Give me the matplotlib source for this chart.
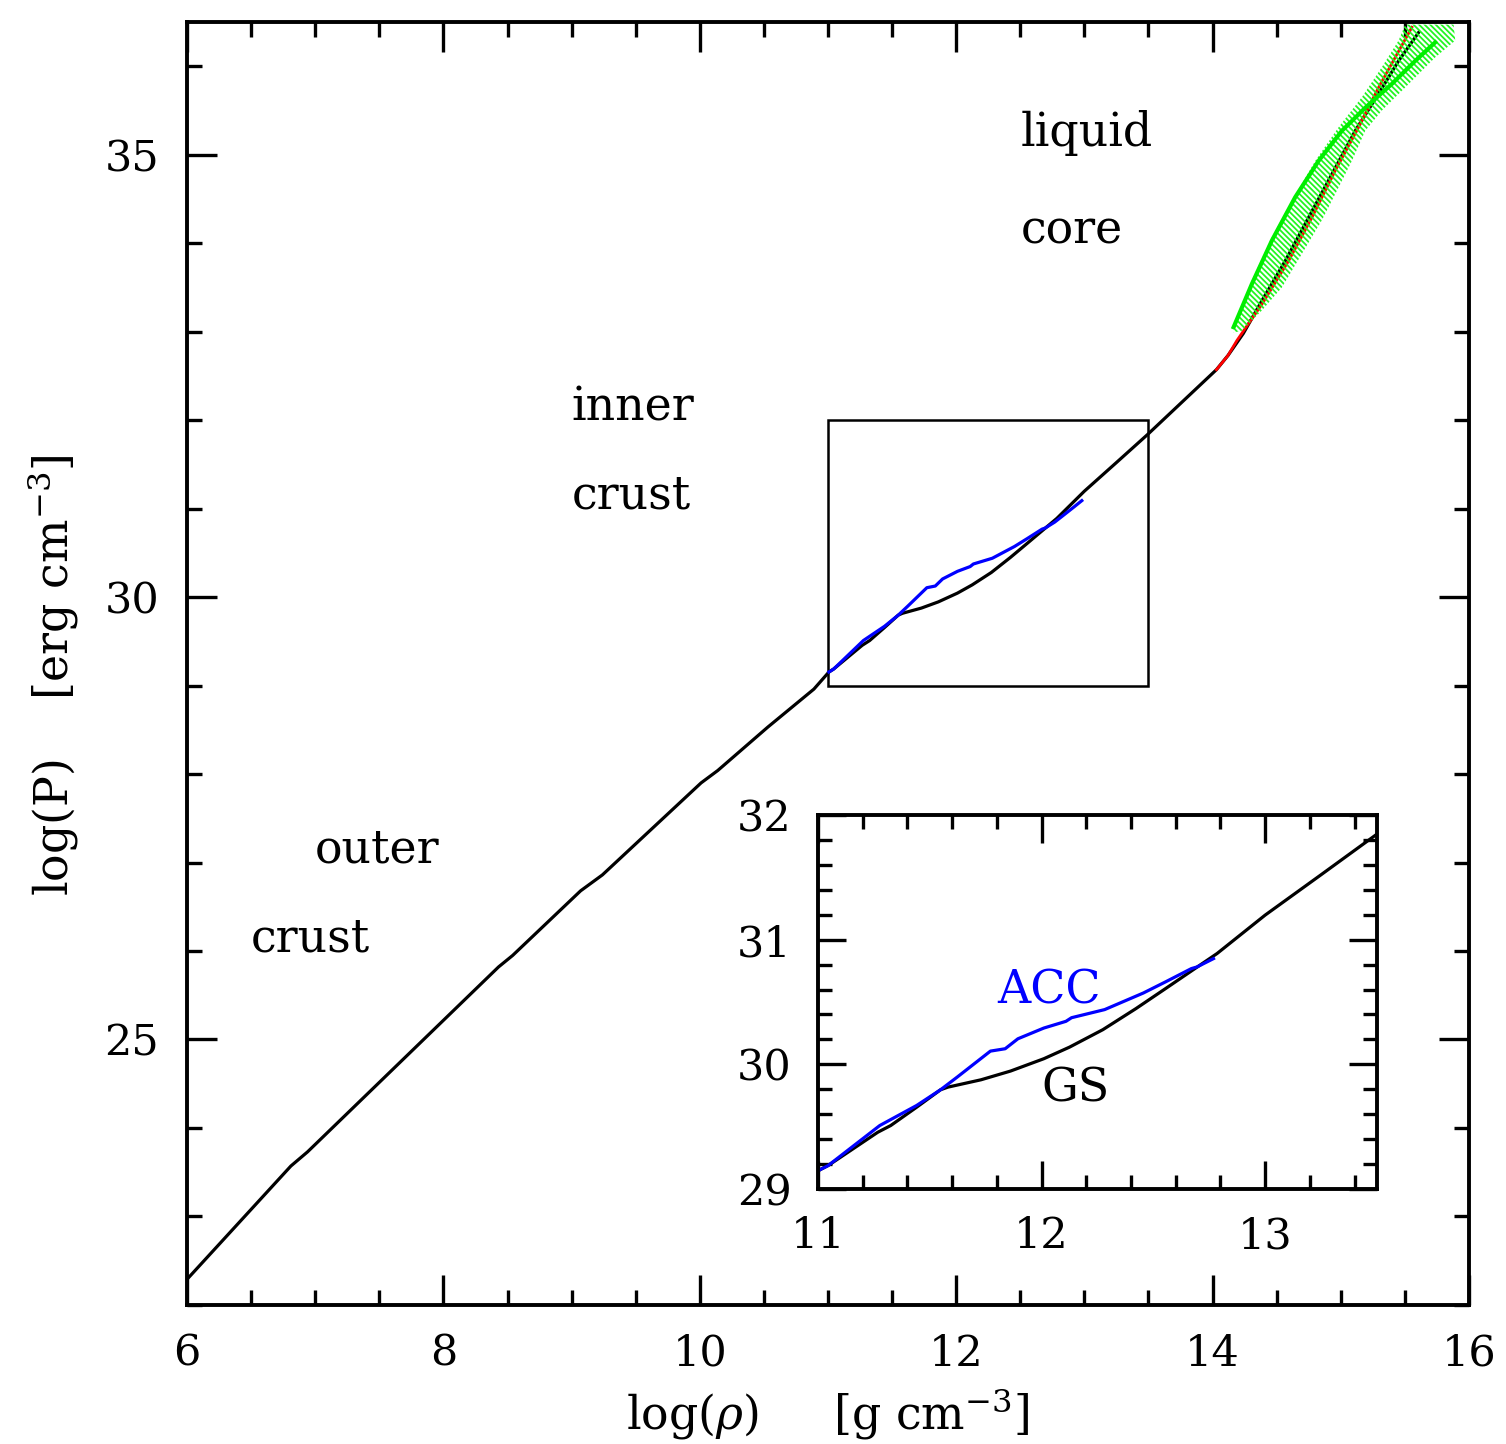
import matplotlib
matplotlib.use("Agg")
import matplotlib.pyplot as plt
from matplotlib.patches import Rectangle
from matplotlib.ticker import MultipleLocator

plt.rcParams['font.family'] = ['DejaVu Serif']
plt.rcParams['mathtext.fontset'] = 'dejavuserif'
plt.rcParams['hatch.linewidth'] = 1.3

# ground-state (GS) equation of state, log(rho) vs log(P)
gs_logrho = [6.0, 6.81, 6.94, 8.43, 8.54, 9.07, 9.24, 10.01, 10.14, 10.53, 10.89,
             11.007, 11.045, 11.267, 11.325, 11.441, 11.548, 11.581, 11.729, 11.861,
             12.010, 12.125, 12.274, 12.422, 12.554, 12.703, 12.785, 13.0, 13.248,
             13.495, 14.03, 14.12, 14.24, 14.385, 14.567, 14.749, 14.931, 15.113,
             15.295, 15.451, 15.607]
gs_logp = [22.29, 23.57, 23.73, 25.82, 25.95, 26.68, 26.86, 27.90, 28.04, 28.53, 28.96,
           29.153, 29.188, 29.455, 29.509, 29.656, 29.796, 29.817, 29.876, 29.946,
           30.045, 30.138, 30.278, 30.447, 30.607, 30.789, 30.889, 31.197, 31.518,
           31.840, 32.57, 32.73, 32.98, 33.35, 33.80, 34.29, 34.78, 35.27,
           35.69, 36.06, 36.38]

# accreted crust (ACC)
acc_logrho = [11.007, 11.045, 11.276, 11.441, 11.548, 11.622, 11.771, 11.837, 11.894,
              12.010, 12.109, 12.134, 12.282, 12.455, 12.554, 12.670, 12.695, 12.769,
              12.85, 12.92, 12.98]
acc_logp = [29.153, 29.188, 29.509, 29.670, 29.796, 29.897, 30.106, 30.125, 30.205,
            30.291, 30.345, 30.374, 30.439, 30.572, 30.661, 30.768, 30.781, 30.848,
            30.94, 31.02, 31.09]

# core EOS (red)
core_logrho = [14.03, 14.12, 14.19, 14.385, 14.593, 14.775, 14.957, 15.139, 15.295,
               15.425, 15.555]
core_logp = [32.57, 32.73, 32.90, 33.31, 33.80, 34.29, 34.82, 35.31, 35.76,
             36.10, 36.44]

# constraint band outline (upper-left edge, then lower-right edge) and its central line
band_up_x = [14.164, 14.307, 14.463, 14.619, 14.801, 14.983, 15.165, 15.321, 15.451,
             15.503, 15.88]
band_up_y = [32.99, 33.58, 34.07, 34.48, 34.93, 35.31, 35.65, 35.99, 36.29,
             36.47, 36.47]
band_lo_x = [15.893, 15.737, 15.503, 15.321, 15.191, 15.087, 14.983, 14.853, 14.697,
             14.541, 14.385, 14.229]
band_lo_y = [36.29, 36.10, 35.76, 35.50, 35.27, 34.93, 34.63, 34.26, 33.88,
             33.50, 33.24, 33.01]
mid_logrho = [14.164, 14.307, 14.463, 14.645, 14.827, 15.009, 15.191, 15.399, 15.581,
              15.737]
mid_logp = [33.05, 33.54, 34.03, 34.52, 34.93, 35.27, 35.53, 35.80, 36.06, 36.27]

regions = [("liquid", 12.5, 35.1), ("core", 12.5, 34.0),
           ("inner", 9.0, 32.0), ("crust", 9.0, 31.0),
           ("outer", 7.0, 27.0), ("crust", 6.5, 26.0)]

fs = 31
fs_word = 33

fig = plt.figure(figsize=(15.06, 14.44), dpi=100)
ax = fig.add_axes([0.1242, 0.0963, 0.8512, 0.8885])

ax.plot(gs_logrho, gs_logp, color='black', lw=2.3, zorder=3)
ax.plot(acc_logrho, acc_logp, color='#0000ff', lw=2.3, zorder=3)
ax.plot(core_logrho, core_logp, color='#ff0000', lw=2.0, zorder=3)
ax.fill(band_up_x + band_lo_x, band_up_y + band_lo_y, facecolor='none',
        edgecolor='#22f522', hatch='\\\\\\\\\\\\', linewidth=0, zorder=4)
ax.plot(mid_logrho, mid_logp, color='#00ee00', lw=3.0, zorder=5)

# zoom box of the inset
ax.add_patch(Rectangle((11, 29), 2.5, 3, fill=False, lw=1.8, color='black', zorder=2))

for txt, x, y in regions:
    ax.text(x, y, txt, fontsize=fs_word, ha='left', va='baseline')

ax.set_xlim(6, 16)
ax.set_ylim(22, 36.5)
ax.xaxis.set_major_locator(MultipleLocator(2))
ax.xaxis.set_minor_locator(MultipleLocator(0.5))
ax.yaxis.set_major_locator(MultipleLocator(5))
ax.yaxis.set_minor_locator(MultipleLocator(1))
ax.tick_params(which='both', direction='in', top=True, right=True, width=2.4,
               labelsize=fs, pad=20)
ax.tick_params(which='major', length=21.5)
ax.tick_params(which='minor', length=10.8)
for s in ax.spines.values():
    s.set_linewidth(2.8)

ax.set_xlabel(r"log($\rho$)     [g cm$^{-3}$]", fontsize=fs_word)
ax.set_ylabel(r"log(P)    [erg cm$^{-3}$]", fontsize=fs_word)
ax.xaxis.set_label_coords(0.5, -0.064)
ax.yaxis.set_label_coords(-0.083, 0.491)

# inset: inner crust, GS vs ACC
ins = fig.add_axes([0.5432, 0.1766, 0.3711, 0.2590])
ins.plot(gs_logrho, gs_logp, color='black', lw=2.3)
n_in = sum(1 for r in acc_logrho if r <= 12.78)
ins.plot(acc_logrho[:n_in], acc_logp[:n_in], color='#0000ff', lw=2.3)
ins.text(11.8, 30.49, "ACC", fontsize=fs_word, color='#0000ff', va='baseline')
ins.text(12.0, 29.70, "GS", fontsize=fs_word, color='black', va='baseline')
ins.set_xlim(11, 13.5)
ins.set_ylim(29, 32)
ins.xaxis.set_major_locator(MultipleLocator(1))
ins.xaxis.set_minor_locator(MultipleLocator(0.2))
ins.yaxis.set_major_locator(MultipleLocator(1))
ins.yaxis.set_minor_locator(MultipleLocator(0.2))
ins.tick_params(which='both', direction='in', top=True, right=True, width=2.4,
                labelsize=fs, pad=19)
ins.tick_params(which='major', length=20)
ins.tick_params(which='minor', length=10)
for s in ins.spines.values():
    s.set_linewidth(2.8)

fig.savefig("out.png", dpi=100)
